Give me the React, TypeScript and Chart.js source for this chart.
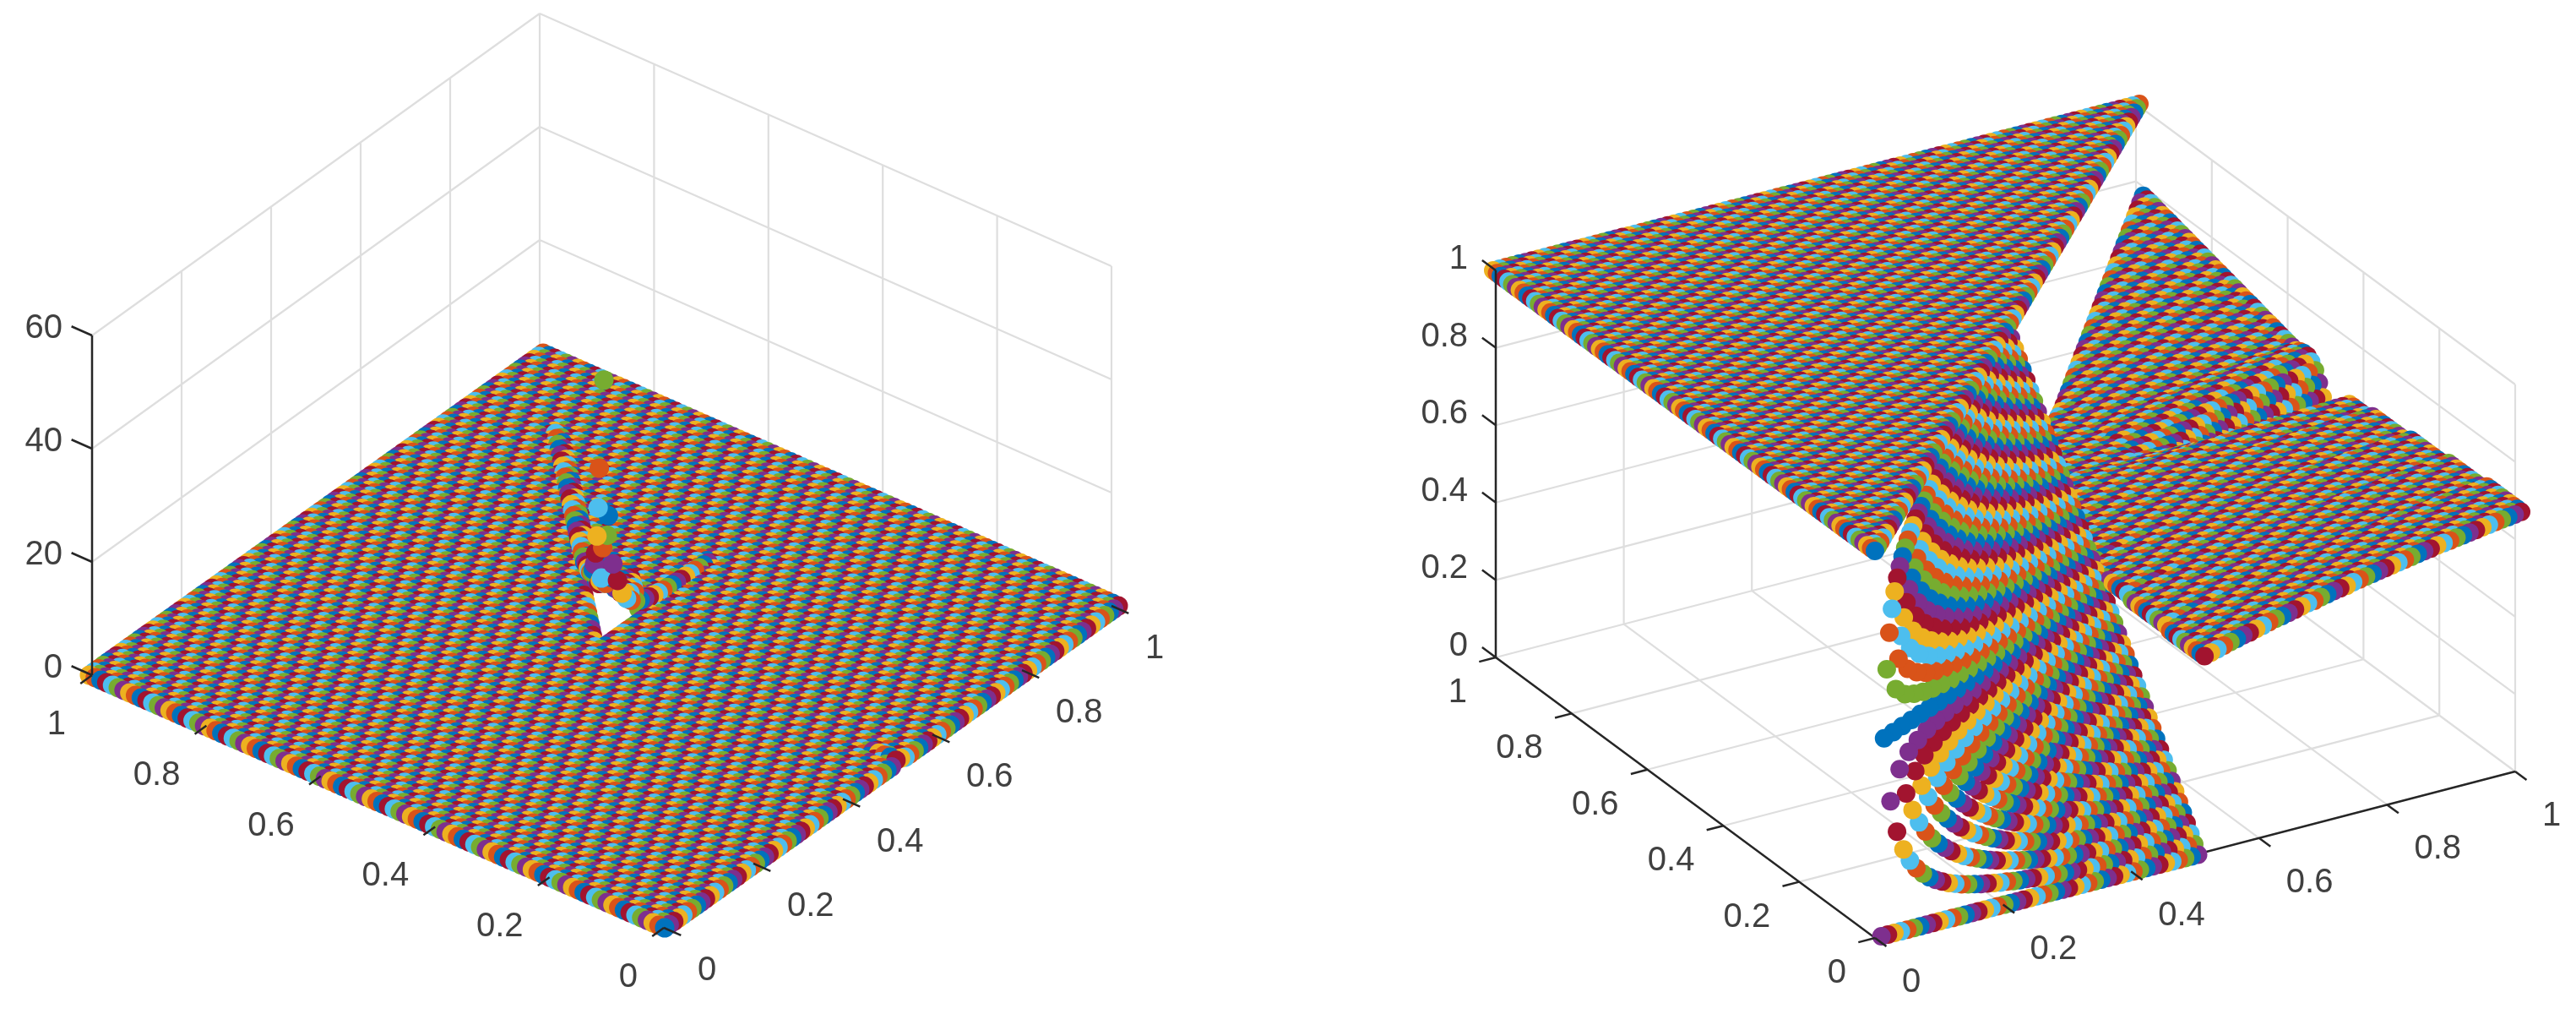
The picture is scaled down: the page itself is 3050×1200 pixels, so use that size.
import React, { useRef, useEffect } from "react";
import { Chart, registerables } from "chart.js";

Chart.register(...registerables);

// grid of the two surfaces, one value per row and per column
const gridValues = [
  0, 0.01, 0.02, 0.03, 0.04, 0.05, 0.06, 0.07, 0.08, 0.09, 0.1, 0.11, 0.12, 0.13, 0.14, 0.15, 0.16, 0.17, 0.18, 0.19,
  0.2, 0.21, 0.22, 0.23, 0.24, 0.25, 0.26, 0.27, 0.28, 0.29, 0.3, 0.31, 0.32, 0.33, 0.34, 0.35, 0.36, 0.37, 0.38, 0.39,
  0.4, 0.41, 0.42, 0.43, 0.44, 0.45, 0.46, 0.47, 0.48, 0.49, 0.5, 0.51, 0.52, 0.53, 0.54, 0.55, 0.56, 0.57, 0.58, 0.59,
  0.6, 0.61, 0.62, 0.63, 0.64, 0.65, 0.66, 0.67, 0.68, 0.69, 0.7, 0.71, 0.72, 0.73, 0.74, 0.75, 0.76, 0.77, 0.78, 0.79,
  0.8, 0.81, 0.82, 0.83, 0.84, 0.85, 0.86, 0.87, 0.88, 0.89, 0.9, 0.91, 0.92, 0.93, 0.94, 0.95, 0.96, 0.97, 0.98, 0.99, 1,
];
const unitTicks = [0, 0.2, 0.4, 0.6, 0.8, 1];
const unitLabels = ["0", "0.2", "0.4", "0.6", "0.8", "1"];
const leftZTicks = [0, 20, 40, 60];
const leftZLabels = ["0", "20", "40", "60"];
const colors = ["#0072BD", "#D95319", "#EDB120", "#7E2F8E", "#77AC30", "#4DBEEE", "#A2142F"];

// left panel: everything is 0 except these [column, row, value]
const leftSpikes = [
  [50, 50, 46], [49, 50, 31], [50, 51, 23], [51, 50, 21.5], [51, 51, 15.4], [52, 51, 17], [51, 52, 17], [52, 53, 13],
  [52, 50, 12.4], [53, 50, 8.9], [54, 50, 6.1], [55, 50, 4.6], [56, 50, 3.7], [57, 50, 3], [58, 50, 2.6], [59, 50, 2.3],
  [60, 50, 2], [61, 50, 1.8], [62, 50, 1.6], [63, 50, 1.5], [64, 50, 1.4], [65, 50, 1.3], [66, 50, 1.2], [67, 50, 1.1],
  [68, 50, 1.1], [69, 50, 1], [70, 50, 1], [71, 50, 0.9], [72, 50, 0.8], [73, 50, 0.6],
  [53, 51, 9], [54, 51, 6.5], [55, 51, 5.2], [56, 51, 4.5], [57, 51, 4], [58, 51, 3.6],
  [53, 52, 7.5], [54, 52, 7], [55, 52, 5.5], [56, 52, 4.8], [57, 52, 4.2], [58, 52, 3.8], [59, 52, 3.4],
  [54, 53, 6.5], [55, 53, 6], [56, 53, 5.2], [57, 53, 4.6], [58, 53, 4], [59, 53, 3.6], [60, 53, 3.2],
  [55, 54, 5.5], [56, 54, 5.2], [57, 54, 4.8], [58, 54, 4.2], [59, 54, 3.8], [60, 54, 3.4], [61, 54, 3],
  [56, 55, 5], [57, 55, 4.8], [58, 55, 4.4], [59, 55, 4], [60, 55, 3.5], [61, 55, 3.1],
  [57, 56, 4.6], [58, 56, 4.4], [59, 56, 4], [60, 56, 3.6], [61, 56, 3.2],
  [58, 57, 4.2], [59, 57, 4], [60, 57, 3.7], [61, 57, 3.3],
  [59, 58, 3.8], [60, 58, 3.6], [61, 58, 3.3], [62, 58, 3],
  [60, 59, 3.5], [61, 59, 3.4], [62, 59, 3], [61, 60, 3.3], [62, 60, 3.1], [62, 61, 3],
  [52, 52, 9], [53, 53, 7.5], [54, 54, 6], [55, 55, 5.2], [56, 56, 4.6], [57, 57, 4.2], [58, 58, 3.8], [59, 59, 3.5],
  [60, 60, 3.2], [61, 61, 3],
  [53, 54, 10], [54, 55, 8], [55, 56, 6.5], [56, 57, 5.5], [57, 58, 4.7], [58, 59, 4.2], [59, 60, 3.7], [60, 61, 3.3],
  [61, 62, 2.2], [62, 63, 2.1], [63, 64, 2], [64, 65, 1.9], [65, 66, 1.8], [66, 67, 1.7], [67, 68, 1.6], [68, 69, 1.5],
  [69, 70, 1.4], [70, 71, 1.3], [71, 72, 1.3], [72, 73, 1.2], [73, 74, 1.2], [74, 75, 1.1], [75, 76, 1.1], [76, 77, 1],
  [77, 78, 1], [78, 79, 0.9], [79, 80, 0.9], [80, 81, 0.8], [81, 82, 0.8], [82, 83, 0.8], [83, 84, 0.7], [84, 85, 0.7], [85, 86, 0.6],
  [62, 62, 1.8], [63, 63, 1.7], [64, 64, 1.6], [65, 65, 1.5], [66, 66, 1.4], [67, 67, 1.3], [68, 68, 1.2], [69, 69, 1.1],
  [70, 70, 1], [71, 71, 1], [72, 72, 0.9], [73, 73, 0.9], [74, 74, 0.8], [75, 75, 0.8], [76, 76, 0.7], [77, 77, 0.7],
  [78, 78, 0.6], [79, 79, 0.6], [80, 80, 0.5], [81, 81, 0.5], [82, 82, 0.5], [83, 83, 0.4], [84, 84, 0.4], [85, 85, 0.3],
  [51, 0, 0.6], [51, 1, 0.7], [51, 2, 0.6], [51, 3, 0.5], [51, 4, 0.4], [52, 0, 0.4],
];

// right panel, thousandths. fan: columns 1..50, rows 0..column-1
const fanColumns = [
  "0",
  "0 500",
  "0 333 667",
  "0 250 500 750",
  "0 200 400 600 800",
  "0 167 333 500 667 833",
  "0 143 286 429 571 714 857",
  "0 125 250 375 500 625 750 875",
  "0 111 222 333 444 556 667 778 889",
  "0 100 200 300 400 500 600 700 800 900",
  "0 91 182 273 364 455 545 636 727 818 909",
  "0 83 167 250 333 417 500 583 667 750 833 917",
  "0 77 154 231 308 385 462 538 615 692 769 846 923",
  "0 71 143 214 286 357 429 500 571 643 714 786 857 929",
  "0 67 133 200 267 333 400 467 533 600 667 733 800 867 933",
  "0 63 125 188 250 313 375 438 500 563 625 688 750 813 875 938",
  "0 59 118 176 235 294 353 412 471 529 588 647 706 765 824 882 941",
  "0 56 111 167 222 278 333 389 444 500 556 611 667 722 778 833 889 944",
  "0 53 105 158 211 263 316 368 421 474 526 579 632 684 737 789 842 895 947",
  "0 50 100 150 200 250 300 350 400 450 500 550 600 650 700 750 800 850 900 950",
  "0 48 95 143 190 238 286 333 381 429 476 524 571 619 667 714 762 810 857 905 952",
  "0 45 91 136 182 227 273 318 364 409 455 500 545 591 636 682 727 773 818 864 909 955",
  "0 43 87 130 174 217 261 304 348 391 435 478 522 565 609 652 696 739 783 826 870 913 957",
  "0 42 83 125 167 208 250 292 333 375 417 458 500 542 583 625 667 708 750 792 833 875 917 958",
  "0 40 80 120 160 200 240 280 320 360 400 440 480 520 560 600 640 680 720 760 800 840 880 920 960",
  "0 38 77 115 154 192 231 269 308 346 385 423 462 500 538 577 615 654 692 731 769 808 846 885 923 962",
  "0 37 74 111 148 185 222 259 296 333 370 407 444 481 519 556 593 630 667 704 741 778 815 852 889 926 963",
  "0 36 71 107 143 179 214 250 286 321 357 393 429 464 500 536 571 607 643 679 714 750 786 821 857 893 929 964",
  "0 34 69 103 138 172 207 241 276 310 345 379 414 448 483 517 552 586 621 655 690 724 759 793 828 862 897 931 966",
  "0 33 67 100 133 167 200 233 267 300 333 367 400 433 467 500 533 567 600 633 667 700 733 767 800 833 867 900 933 967",
  "0 32 65 97 129 161 194 226 258 290 323 355 387 419 452 484 516 548 581 613 645 677 710 742 774 806 839 871 903 935 968",
  "0 31 63 94 125 156 188 219 250 281 313 344 375 406 438 469 500 531 563 594 625 656 688 719 750 781 813 844 875 906 938 969",
  "0 30 61 91 121 152 182 212 242 273 303 333 364 394 424 455 485 515 545 576 606 636 667 697 727 758 788 818 848 879 909 939 970",
  "0 29 59 88 118 147 176 206 235 265 294 324 353 382 412 441 471 500 529 559 588 618 647 676 706 735 765 794 824 853 882 912 941 971",
  "0 29 57 86 114 143 171 200 229 257 286 314 343 371 400 429 457 486 514 543 571 600 629 657 686 714 743 771 800 829 857 886 914 943 971",
  "0 28 56 83 111 139 167 194 222 250 278 306 333 361 389 417 444 472 500 528 556 583 611 639 667 694 722 750 778 806 833 861 889 917 944 972",
  "0 27 54 81 108 135 162 189 216 243 270 297 324 351 378 405 432 459 486 514 541 568 595 622 649 676 703 730 757 784 811 838 865 892 919 946 973",
  "0 26 53 79 105 132 158 184 211 237 263 289 316 342 368 395 421 447 474 500 526 553 579 605 632 658 684 711 737 763 789 816 842 868 895 921 947 974",
  "0 26 51 77 103 128 154 179 205 231 256 282 308 333 359 385 410 436 462 487 513 538 564 590 615 641 667 692 718 744 769 795 821 846 872 897 923 949 974",
  "0 25 50 75 100 125 150 175 200 225 250 275 300 325 350 375 400 425 450 475 500 525 550 575 600 625 650 675 700 725 750 775 800 825 850 875 900 925 950 975",
  "0 24 49 73 98 122 146 171 195 220 244 268 293 317 341 366 390 415 439 463 488 512 537 561 585 610 634 659 683 707 732 756 780 805 829 854 878 902 927 951 976",
  "0 24 48 71 95 119 143 167 190 214 238 262 286 310 333 357 381 405 429 452 476 500 524 548 571 595 619 643 667 690 714 738 762 786 810 833 857 881 905 929 952 976",
  "0 23 47 70 93 116 140 163 186 209 233 256 279 302 326 349 372 395 419 442 465 488 512 535 558 581 605 628 651 674 698 721 744 767 791 814 837 860 884 907 930 953 977",
  "0 23 45 68 91 114 136 159 182 205 227 250 273 295 318 341 364 386 409 432 455 477 500 523 545 568 591 614 636 659 682 705 727 750 773 795 818 841 864 886 909 932 955 977",
  "0 22 44 67 89 111 133 156 178 200 222 244 267 289 311 333 356 378 400 422 444 467 489 511 533 556 578 600 622 644 667 689 711 733 756 778 800 822 844 867 889 911 933 956 978",
  "0 22 43 65 87 109 130 152 174 196 217 239 261 283 304 326 348 370 391 413 435 457 478 500 522 543 565 587 609 630 652 674 696 717 739 761 783 804 826 848 870 891 913 935 957 978",
  "0 21 43 64 85 106 128 149 170 191 213 234 255 277 298 319 340 362 383 404 426 447 468 489 511 532 553 574 596 617 638 660 681 702 723 745 766 787 809 830 851 872 894 915 936 957 979",
  "0 21 42 63 83 104 125 146 167 188 208 229 250 271 292 313 333 354 375 396 417 438 458 479 500 521 542 563 583 604 625 646 667 688 708 729 750 771 792 813 833 854 875 896 917 938 958 979",
  "0 20 41 61 82 102 122 143 163 184 204 224 245 265 286 306 327 347 367 388 408 429 449 469 490 510 531 551 571 592 612 633 653 673 694 714 735 755 776 796 816 837 857 878 898 918 939 959 980",
  "0 20 40 60 80 100 120 140 160 180 200 220 240 260 280 300 320 340 360 380 400 420 440 460 480 500 520 540 560 580 600 620 640 660 680 700 720 740 760 780 800 820 840 860 880 900 920 940 960 980",
];

// right plate, thousandths: one line per 10 rows (0..49), columns 51..100
const plateRows = [
  "509 514 518 523 528 532 537 540 545 549 554 558 561 565 569 573 577 579 584 587 591 594 596 601 604 607 610 613 616 619 622 625 628 631 634 636 640 642 644 647 649 652 654 657 659 662 664 666 668 671",
  "516 521 525 530 534 537 542 545 550 553 557 561 564 568 571 574 578 580 585 587 590 593 595 600 602 604 607 610 613 615 617 620 623 626 628 629 633 635 637 639 640 643 645 648 649 651 653 655 657 659",
  "524 528 532 536 540 543 547 550 554 557 561 564 567 570 573 576 579 581 585 587 590 592 594 598 600 602 604 607 609 611 613 615 618 620 622 623 626 628 629 631 632 634 636 638 639 641 642 644 645 647",
  "532 535 539 542 546 549 552 555 558 561 565 567 570 572 575 578 580 582 585 587 590 591 593 596 598 600 601 604 605 607 609 610 613 614 616 617 619 621 621 623 624 625 627 628 629 631 631 633 633 635",
  "539 542 546 549 552 554 557 560 563 565 568 570 573 575 577 579 581 583 586 587 589 590 592 595 596 597 598 601 602 603 604 605 608 609 610 610 612 614 614 615 615 616 618 619 619 620 620 622 622 623",
];

// the last rows of the plate, 46..49, where it falls into the crease
const plateBackRows = [
  "539 542 546 549 552 554 557 560 563 565 568 569 572 573 575 576 578 579 582 582 584 585 586 589 589 590 590 593 593 594 595 595 598 598 599 598 600 601 601 601 601 602 603 604 603 604 603 605 604 605",
  "539 542 546 549 552 554 557 560 563 565 567 568 570 571 572 573 574 575 577 577 579 579 580 582 582 582 582 584 584 584 584 584 586 586 586 585 586 587 586 586 586 586 587 587 586 586 585 586 585 585",
  "539 542 546 549 552 554 557 560 563 565 567 567 569 569 570 570 571 571 573 572 573 573 573 575 574 574 573 575 574 574 574 573 575 574 574 572 573 573 572 571 570 570 570 570 568 568 566 567 565 565",
  "539 542 546 549 552 554 557 560 563 565 566 566 567 567 567 567 567 567 568 567 568 567 567 568 567 566 565 566 565 564 563 562 563 562 561 559 559 559 557 556 555 554 554 553 551 550 548 548 546 545",
];

// wedge behind the fan, thousandths: columns 51..100, rows 50..column-1
const wedgeColumns = [
  "540",
  "542 542",
  "543 543 543",
  "545 545 545 545",
  "547 547 547 547 547",
  "549 549 549 549 549 549",
  "550 550 550 550 550 550 550",
  "552 552 552 552 552 552 552 552",
  "554 554 554 554 554 554 554 554 554",
  "555 555 555 555 555 555 555 555 555 555",
  "557 557 557 557 557 557 557 557 557 557 557",
  "559 559 559 559 559 559 559 559 559 559 559 559",
  "561 561 561 561 561 561 561 561 561 561 561 561 561",
  "562 562 562 562 562 562 562 562 562 562 562 562 562 562",
  "564 564 564 564 564 564 564 564 564 564 564 564 564 564 564",
  "566 566 566 566 566 566 566 566 566 566 566 566 566 566 566 566",
  "568 568 568 568 568 568 568 568 568 568 568 568 568 568 568 568 568",
  "569 569 569 569 569 569 569 569 569 569 569 569 569 569 569 569 569 569",
  "571 571 571 571 571 571 571 571 571 571 571 571 571 571 571 571 571 571 571",
  "549 556 563 569 575 579 580 580 578 576 574 575 575 575 575 575 575 576 576 576",
  "549 556 565 572 579 583 584 584 582 581 579 579 580 580 581 581 581 582 582 583 583",
  "547 557 565 574 580 585 588 587 586 584 582 583 583 584 585 585 586 586 587 588 588 589",
  "547 557 567 575 584 589 591 591 589 588 586 587 588 589 589 590 591 592 593 594 594 595 596",
  "547 557 568 578 587 592 595 595 594 592 590 591 591 592 593 594 595 596 597 598 599 600 601 602",
  "546 557 569 580 590 596 598 598 597 595 593 594 596 597 598 599 600 601 602 603 604 606 607 608 609",
  "545 557 570 581 591 597 601 601 599 598 596 597 598 600 601 602 604 605 606 607 609 610 611 613 614 615",
  "545 557 571 583 594 601 605 604 603 601 599 601 602 604 605 606 608 609 611 612 613 615 616 618 619 620 622",
  "544 558 572 586 597 604 607 608 606 605 602 604 605 607 608 610 611 613 614 616 617 619 620 622 623 625 626 628",
  "544 559 573 587 599 607 611 610 610 607 605 607 608 610 611 613 615 616 618 620 621 623 624 626 628 629 631 632 634",
  "542 558 573 588 601 609 614 613 612 610 608 609 611 613 615 616 618 620 622 623 625 627 629 630 632 634 636 637 639 641",
  "542 558 574 590 603 612 616 617 615 612 610 612 614 616 618 620 621 623 625 627 629 630 632 634 636 638 640 641 643 645 647",
  "542 559 575 592 606 615 620 620 618 615 613 615 617 619 621 623 625 627 629 631 633 635 637 639 641 642 644 646 648 650 652 654",
  "541 559 576 594 609 618 622 623 621 619 616 618 620 622 624 626 628 630 632 634 636 638 640 642 644 646 648 650 652 654 656 658 660",
  "540 558 576 595 610 620 625 625 624 621 618 620 622 625 627 629 631 633 635 637 639 642 644 646 648 650 652 654 656 659 661 663 665 667",
  "540 558 577 597 613 623 628 628 626 624 621 623 625 627 630 632 634 636 638 640 643 645 647 649 651 654 656 658 660 662 664 667 669 671 673",
  "539 559 578 599 615 625 631 631 629 626 624 626 628 630 633 635 637 639 642 644 646 648 651 653 655 657 660 662 664 666 669 671 673 675 678 680",
  "539 559 580 601 617 629 634 634 632 629 626 628 631 633 635 638 640 642 645 647 649 651 654 656 658 661 663 665 668 670 672 675 677 679 681 684 686",
  "537 558 580 601 620 630 636 636 634 631 628 630 633 635 637 640 642 644 647 649 652 654 656 659 661 663 666 668 671 673 675 678 680 682 685 687 690 692",
  "537 559 581 603 622 633 639 639 638 634 631 633 635 638 640 643 645 648 650 653 655 657 660 662 665 667 670 672 675 677 679 682 684 687 689 692 694 697 699",
  "537 559 582 604 624 635 642 642 640 636 633 635 638 640 643 645 648 650 653 655 658 660 663 665 668 670 673 675 678 680 683 685 688 690 693 695 698 700 703 705",
  "536 560 583 607 626 639 644 645 642 639 636 638 641 643 646 648 651 653 656 658 661 664 666 669 671 674 676 679 681 684 687 689 692 694 697 699 702 704 707 709 712",
  "535 560 583 608 627 640 647 647 645 640 637 640 642 645 648 650 653 655 658 661 663 666 668 671 674 676 679 681 684 687 689 692 695 697 700 702 705 708 710 713 715 718",
  "535 560 584 609 631 643 650 650 647 644 640 642 645 648 650 653 656 658 661 664 666 669 672 674 677 680 682 685 688 690 693 696 698 701 704 706 709 712 714 717 720 722 725",
  "534 560 585 611 633 645 652 653 651 646 642 645 647 650 653 656 658 661 664 666 669 672 674 677 680 683 685 688 691 693 696 699 702 704 707 710 712 715 718 720 723 726 729 731",
  "534 560 586 613 635 649 656 655 653 649 645 647 650 653 656 658 661 664 667 669 672 675 678 680 683 686 689 692 694 697 700 703 705 708 711 714 716 719 722 725 727 730 733 736 738",
  "532 560 587 613 636 650 658 658 654 650 646 649 652 654 657 660 663 666 668 671 674 677 680 682 685 688 691 694 696 699 702 705 708 710 713 716 719 722 724 727 730 733 736 738 741 744",
  "532 560 588 616 638 653 660 660 658 653 649 651 654 657 660 663 666 668 671 674 677 680 683 686 688 691 694 697 700 703 705 708 711 714 717 720 723 725 728 731 734 737 740 742 745 748 751",
  "532 560 589 618 641 655 663 663 660 656 651 654 656 659 662 665 668 671 674 677 679 682 685 688 691 694 697 700 702 705 708 711 714 717 720 723 725 728 731 734 737 740 743 746 748 751 754 757",
  "531 561 590 619 644 659 666 665 663 658 653 656 659 662 665 668 671 674 677 679 682 685 688 691 694 697 700 703 706 709 712 714 717 720 723 726 729 732 735 738 741 744 747 749 752 755 758 761 764",
  "530 560 590 620 645 660 668 668 665 660 662 665 668 670 673 676 679 681 684 687 690 693 695 698 701 704 706 709 712 715 717 720 723 726 729 731 734 737 740 743 745 748 751 754 756 759 762 765 767 770",
];

const readNums = (s: string) => s.split(" ").map(Number);
const fanTable = fanColumns.map(readNums);
const plateTable = plateRows.map(readNums);
const plateBackTable = plateBackRows.map(readNums);
const wedgeTable = wedgeColumns.map(readNums);
const spikeTable = new Map(leftSpikes.map(([i, j, z]) => [i * 1000 + j, z]));

const leftZ = (i: number, j: number) => spikeTable.get(i * 1000 + j) ?? 0;

const rightZ = (i: number, j: number) => {
  if (i === 0 || j >= i) return 1;
  if (i <= 50) return fanTable[i - 1][j] / 1000;
  if (j >= 50) return wedgeTable[i - 51][j - 50] / 1000;
  if (j >= 46) return plateBackTable[j - 46][i - 51] / 1000;
  return plateTable[Math.floor(j / 10)][i - 51] / 1000;
};

const leftView = {
  left: 0,
  zMax: 60,
  zTicks: leftZTicks,
  zLabels: leftZLabels,
  zValue: leftZ,
  origin: [786, 1098],
  ex: [530, -381],
  ey: [-677, -299],
  ez: [0, -402],
  markOrigin: [787, 1098],
  markEx: [537, -381],
  markEy: [-681, -299],
  near: [-559, -441, 274],
  radius: 11.5,
  zLabelGap: [-35, -8],
  yLabelGap: [-31, 59],
  xLabelGap: [40, 51],
};

const rightView = {
  left: 1525,
  zMax: 1,
  zTicks: unitTicks,
  zLabels: unitLabels,
  zValue: rightZ,
  origin: [2220, 1110],
  ex: [758, -197],
  ey: [-449, -332],
  ez: [0, -458],
  markOrigin: [2220, 1110],
  markEx: [765, -197],
  markEy: [-452, -332],
  near: [-404, -682, 223],
  radius: 11,
  zLabelGap: [-33, -13],
  yLabelGap: [-34, 42],
  xLabelGap: [32, 53],
};

const project = (v: any, x: number, y: number, z: number) => ({
  x: v.origin[0] + x * v.ex[0] + y * v.ey[0],
  y: v.origin[1] + x * v.ex[1] + y * v.ey[1] + (z / v.zMax) * v.ez[1],
});

const gap = { x: NaN, y: NaN };

function gridLines(v: any) {
  const out: any[] = [];
  const seg = (a: number[], b: number[]) => out.push(project(v, a[0], a[1], a[2]), project(v, b[0], b[1], b[2]), gap);
  unitTicks.forEach((t) => {
    seg([t, 0, 0], [t, 1, 0]);
    seg([0, t, 0], [1, t, 0]);
    seg([t, 1, 0], [t, 1, v.zMax]);
    seg([1, t, 0], [1, t, v.zMax]);
  });
  v.zTicks.forEach((t: number) => {
    seg([0, 1, t], [1, 1, t]);
    seg([1, 0, t], [1, 1, t]);
  });
  return out;
}

function floorAxes(v: any) {
  return [project(v, 0, 1, 0), project(v, 0, 0, 0), project(v, 1, 0, 0)];
}

function ticksAndZAxis(v: any) {
  const out: any[] = [project(v, 0, 1, 0), project(v, 0, 1, v.zMax), gap];
  const push = (a: any, dx: number, dy: number) => out.push(a, { x: a.x + dx, y: a.y + dy }, gap);
  unitTicks.forEach((t) => {
    push(project(v, t, 0, 0), -v.ey[0] * 0.03, -v.ey[1] * 0.03);
    push(project(v, 0, t, 0), -v.ex[0] * 0.026, -v.ex[1] * 0.026);
  });
  v.zTicks.forEach((t: number) => {
    push(project(v, 0, 1, t), v.ey[0] * 0.036, v.ey[1] * 0.036);
  });
  return out;
}

function surfacePoints(v: any) {
  const pts: any[] = [];
  gridValues.forEach((gx, i) => {
    gridValues.forEach((gy, j) => {
      const z = v.zValue(i, j);
      const zPx = (z / v.zMax) * v.ez[1];
      pts.push({
        x: v.markOrigin[0] + gx * v.markEx[0] + gy * v.markEy[0],
        y: v.markOrigin[1] + gx * v.markEx[1] + gy * v.markEy[1] + zPx,
        depth: gx * v.near[0] + gy * v.near[1] + (z / v.zMax) * v.near[2],
        color: colors[(3 * i + j) % 7],
      });
    });
  });
  // far markers first, like the depth test in the original
  pts.sort((a, b) => a.depth - b.depth);
  return pts;
}

const tickTextPlugin = (v: any) => ({
  id: "tickText",
  afterDatasetsDraw(chart: any) {
    const { ctx, scales } = chart;
    const put = (text: string, p: any, g: number[], align: CanvasTextAlign) => {
      ctx.textAlign = align;
      ctx.fillText(text, scales.x.getPixelForValue(p.x + g[0]), scales.y.getPixelForValue(p.y + g[1]));
    };
    ctx.save();
    ctx.font = '40px "Liberation Sans"';
    ctx.fillStyle = "#404040";
    ctx.textBaseline = "middle";
    v.zTicks.forEach((t: number, k: number) => put(v.zLabels[k], project(v, 0, 1, t), v.zLabelGap, "right"));
    unitTicks.forEach((t, k) => {
      put(unitLabels[k], project(v, 0, t, 0), v.yLabelGap, "right");
      put(unitLabels[k], project(v, t, 0, 0), v.xLabelGap, "left");
    });
    ctx.restore();
  },
});

function Panel({ view }: { view: any }) {
  const canvasRef = useRef<HTMLCanvasElement | null>(null);
  const chartRef = useRef<any>(null);

  useEffect(() => {
    const pts = surfacePoints(view);
    chartRef.current = new Chart(canvasRef.current as HTMLCanvasElement, {
      type: "scatter",
      data: {
        datasets: [
          {
            data: ticksAndZAxis(view),
            showLine: true,
            pointRadius: 0,
            borderColor: "#262626",
            borderWidth: 2.5,
            order: 1,
          },
          {
            data: pts,
            backgroundColor: pts.map((p) => p.color),
            borderWidth: 0,
            pointRadius: view.radius,
            clip: false,
            order: 2,
          },
          {
            data: floorAxes(view),
            showLine: true,
            pointRadius: 0,
            borderColor: "#262626",
            borderWidth: 2.5,
            order: 3,
          },
          {
            data: gridLines(view),
            showLine: true,
            pointRadius: 0,
            borderColor: "#dedede",
            borderWidth: 2.2,
            order: 4,
          },
        ],
      },
      options: {
        animation: false,
        responsive: false,
        devicePixelRatio: 1,
        events: [],
        layout: { padding: 0, autoPadding: false },
        plugins: { legend: { display: false }, tooltip: { enabled: false } },
        scales: {
          x: { type: "linear", display: false, min: view.left, max: view.left + 1525 },
          y: { type: "linear", display: false, min: 0, max: 1200, reverse: true },
        },
      } as any,
      plugins: [tickTextPlugin(view)],
    });

    return () => {
      if (chartRef.current) {
        chartRef.current.destroy();
      }
    };
  }, [view]);

  return (
    <canvas
      ref={canvasRef}
      width={1525}
      height={1200}
      style={{ display: "block", width: 1525, height: 1200, filter: "blur(0.5px)" }}
    />
  );
}

export default function App() {
  return (
    <div style={{ position: "absolute", left: 0, top: 0, width: 3050, height: 1200, display: "flex", background: "#fff" }}>
      <Panel view={leftView} />
      <Panel view={rightView} />
    </div>
  );
}
